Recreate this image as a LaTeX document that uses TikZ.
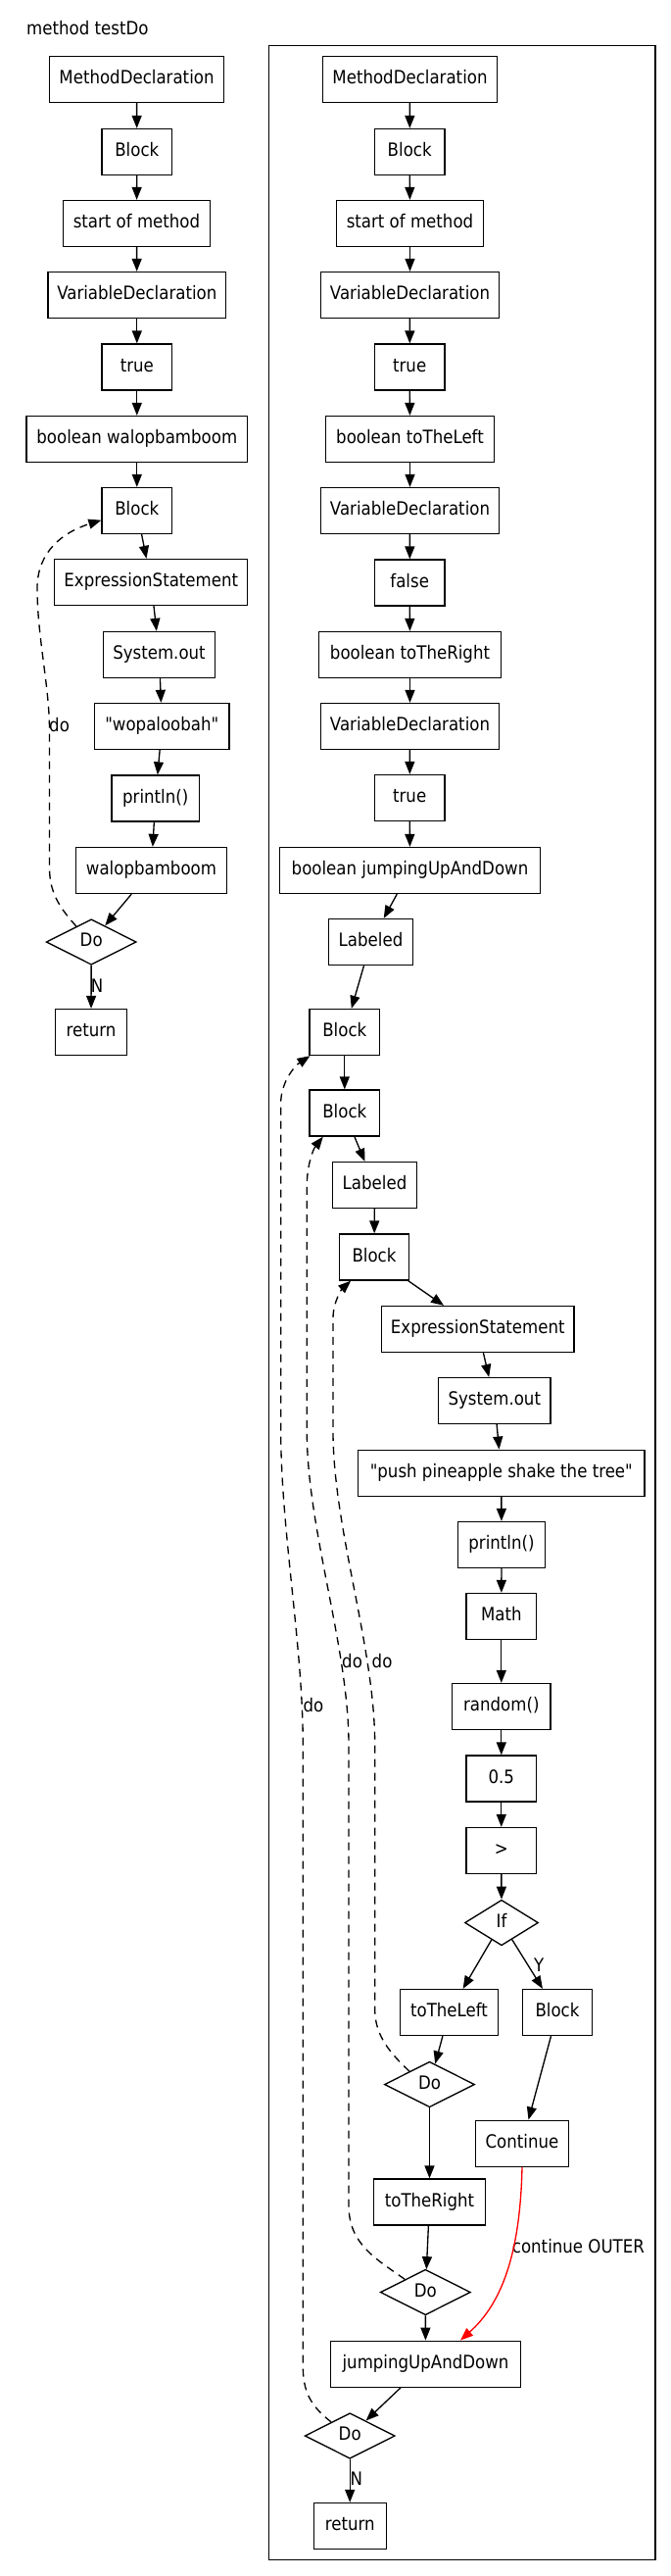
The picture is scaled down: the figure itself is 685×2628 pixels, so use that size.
\documentclass[tikz,border=0pt]{standalone}
\usepackage{fontspec}
\setmainfont{DejaVu Sans}[FakeStretch=0.89, Ligatures=TeXOff]
\usetikzlibrary{arrows.meta,shapes.geometric,calc}
\begin{document}
\begin{tikzpicture}[x=1pt,y=-1pt,
  every node/.style={font=\fontsize{18.67pt}{22pt}\selectfont, text height=13.7pt, text depth=3.9pt},
  box/.style={draw=black, line width=1.33pt, rectangle, minimum height=47pt, inner sep=0pt},
  dia/.style={draw=black, line width=1.33pt, diamond, minimum width=92pt, minimum height=46.5pt, inner sep=0pt},
  lbl/.style={inner sep=0pt, anchor=west},
  flow/.style={line width=1.33pt, -{Triangle[length=13pt,width=10pt]}},
  loopedge/.style={flow, dash pattern=on 8pt off 6pt},
  contedge/.style={line width=1.33pt, draw=red, -{Triangle[length=13pt,width=10pt]}}
]
\useasboundingbox (0,0) rectangle (685,2628);
\fill[white] (0,0) rectangle (685,2628);

\node[lbl] (title) at (27,30.5) {method testDo};
\draw[line width=1.33pt] (274.3,46.4) rectangle (669,2611.7);

% left column
\node[box, minimum width=178pt] (L1) at (139.5,81) {MethodDeclaration};
\node[box, minimum width=71.5pt] (L2) at (139.8,155) {Block};
\node[box, minimum width=150pt] (L3) at (139.5,228) {start of method};
\node[box, minimum width=181.5pt] (L4) at (139.8,301) {VariableDeclaration};
\node[box, minimum width=71.5pt] (L5) at (139.8,374.5) {true};
\node[box, minimum width=225.4pt] (L6) at (139.8,448) {boolean walopbamboom};
\node[box, minimum width=71.5pt] (L7) at (139.8,521) {Block};
\node[box, minimum width=197pt] (L8) at (154.3,594) {ExpressionStatement};
\node[box, minimum width=114pt] (L9) at (162.5,668) {System.out};
\node[box, minimum width=137.7pt] (L10) at (165.3,741) {"wopaloobah"};
\node[box, minimum width=89.7pt] (L11) at (158.7,814.5) {println()};
\node[box, minimum width=154pt] (L12) at (154.5,888) {walopbamboom};
\node[dia] (L13) at (93.2,961) {Do};
\node[box, minimum width=73.6pt] (L14) at (93,1053) {return};

% right column
\node[box, minimum width=178pt] (R1) at (418.5,81) {MethodDeclaration};
\node[box, minimum width=71.5pt] (R2) at (418.2,155) {Block};
\node[box, minimum width=150pt] (R3) at (418.5,228) {start of method};
\node[box, minimum width=181.5pt] (R4) at (418.5,301) {VariableDeclaration};
\node[box, minimum width=71.5pt] (R5) at (418.2,374.5) {true};
\node[box, minimum width=172pt] (R6) at (418.5,448) {boolean toTheLeft};
\node[box, minimum width=181.5pt] (R7) at (418.5,521) {VariableDeclaration};
\node[box, minimum width=71.5pt] (R8) at (418.2,594.5) {false};
\node[box, minimum width=186pt] (R9) at (418.5,668) {boolean toTheRight};
\node[box, minimum width=181.5pt] (R10) at (418.5,741) {VariableDeclaration};
\node[box, minimum width=71.5pt] (R11) at (418.2,814) {true};
\node[box, minimum width=266pt] (R12) at (418.5,888) {boolean jumpingUpAndDown};
\node[box, minimum width=86pt] (R13) at (378.5,961) {Labeled};
\node[box, minimum width=71.3pt] (R14) at (351.8,1053) {Block};
\node[box, minimum width=71.3pt] (R15) at (351.8,1135.5) {Block};
\node[box, minimum width=86pt] (R16) at (382.5,1209) {Labeled};
\node[box, minimum width=71pt] (R17) at (382,1282.5) {Block};
\node[box, minimum width=196.7pt] (R18) at (487.8,1356) {ExpressionStatement};
\node[box, minimum width=114.7pt] (R19) at (504.8,1429) {System.out};
\node[box, minimum width=292.7pt] (R20) at (511.8,1502.7) {"push pineapple shake the tree"};
\node[box, minimum width=89.6pt] (R21) at (512,1576) {println()};
\node[box, minimum width=71.3pt] (R22) at (511.8,1649) {Math};
\node[box, minimum width=100.7pt] (R23) at (511.8,1741) {random()};
\node[box, minimum width=71.3pt] (R24) at (511.8,1814.5) {0.5};
\node[box, minimum width=71.3pt] (R25) at (511.8,1888) {>};
\node[dia, minimum width=75pt] (R26) at (512,1961.5) {If};
\node[box, minimum width=100.6pt] (R27) at (458.5,2053) {toTheLeft};
\node[box, minimum width=71pt] (R28) at (569,2053) {Block};
\node[dia] (R29) at (438.5,2126.5) {Do};
\node[box, minimum width=95pt] (R30) at (533,2186.7) {Continue};
\node[box, minimum width=114pt] (R31) at (438.5,2246.5) {toTheRight};
\node[dia] (R32) at (434.3,2338.5) {Do};
\node[box, minimum width=194pt] (R33) at (434.5,2411.7) {jumpingUpAndDown};
\node[dia] (R34) at (357.2,2485) {Do};
\node[box, minimum width=74pt] (R35) at (357.2,2577) {return};

% labels
\node[lbl] (nL) at (92.7,1007.9) {N};
\node[lbl] (doL) at (50,741.9) {do};
\node[lbl] (doR1) at (379.5,1696.2) {do};
\node[lbl] (doR2) at (349,1696.2) {do};
\node[lbl] (doR3) at (309.3,1741.9) {do};
\node[lbl] (yR) at (545,2006.9) {Y};
\node[lbl] (cont) at (522.7,2293.6) {continue OUTER};
\node[lbl] (nR) at (357.3,2530.4) {N};

% left edges
\draw[flow] (L1) -- (L2);
\draw[flow] (L2) -- (L3);
\draw[flow] (L3) -- (L4);
\draw[flow] (L4) -- (L5);
\draw[flow] (L5) -- (L6);
\draw[flow] (L6) -- (L7);
\draw[flow] (L7) -- (L8);
\draw[flow] (L8) -- (L9);
\draw[flow] (L9) -- (L10);
\draw[flow] (L10) -- (L11);
\draw[flow] (L11) -- (L12);
\draw[flow] (L12) -- (L13);
\draw[flow] (L13) -- (L14);
\draw[loopedge] ($(L13.north)!0.33!(L13.west)$) .. controls (60,925) and (50.5,910) .. (50.5,885)
  -- (50.5,745) .. controls (50.5,700) and (38,650) .. (38,600)
  .. controls (38,563) and (64,543) .. ($(L7.west)+(0,9.7)$);

% right edges
\draw[flow] (R1) -- (R2);
\draw[flow] (R2) -- (R3);
\draw[flow] (R3) -- (R4);
\draw[flow] (R4) -- (R5);
\draw[flow] (R5) -- (R6);
\draw[flow] (R6) -- (R7);
\draw[flow] (R7) -- (R8);
\draw[flow] (R8) -- (R9);
\draw[flow] (R9) -- (R10);
\draw[flow] (R10) -- (R11);
\draw[flow] (R11) -- (R12);
\draw[flow] (R12) -- (R13);
\draw[flow] (R13) -- (R14);
\draw[flow] (R14) -- (R15);
\draw[flow] (R15) -- (R16);
\draw[flow] (R16) -- (R17);
\draw[flow] (R17) -- (R18);
\draw[flow] (R18) -- (R19);
\draw[flow] (R19) -- (R20);
\draw[flow] (R20) -- (R21);
\draw[flow] (R21) -- (R22);
\draw[flow] (R22) -- (R23);
\draw[flow] (R23) -- (R24);
\draw[flow] (R24) -- (R25);
\draw[flow] (R25) -- (R26);
\draw[flow] (R26) -- (R27);
\draw[flow] (R26) -- (R28);
\draw[flow] (R27) -- (R29);
\draw[flow] (R28) -- (R30);
\draw[flow] (R29) -- (R31);
\draw[flow] (R31) -- (R32);
\draw[flow] (R32) -- (R33);
\draw[flow] (R33) -- (R34);
\draw[flow] (R34) -- (R35);
\draw[contedge] (R30.south) .. controls (531,2300) and (512,2350) .. ($(R33.north)+(35.5,0)$);

\draw[loopedge] ($(R29.north)!0.44!(R29.west)$) .. controls (400,2096) and (382.7,2078) .. (382.7,2050)
  -- (382.7,1780) .. controls (382.7,1680) and (340,1560) .. (340,1460)
  -- (340,1345) .. controls (340,1328) and (349,1315) .. ($(R17.south west)+(12.3,0)$);
\draw[loopedge] ($(R32.north)!0.45!(R32.west)$) .. controls (385,2305) and (356,2290) .. (356,2250)
  -- (356,1780) .. controls (356,1680) and (313.3,1560) .. (313.3,1460)
  -- (313.3,1210) .. controls (313.3,1188) and (320,1172) .. ($(R15.south west)+(14.3,0)$);
\draw[loopedge] ($(R34.north)!0.41!(R34.west)$) .. controls (322,2458) and (309.3,2445) .. (309.3,2415)
  -- (309.3,1780) .. controls (309.3,1680) and (286.7,1560) .. (286.7,1460)
  -- (286.7,1125) .. controls (286.7,1105) and (300,1088) .. ($(R14.south west)+(1,0)$);
\end{tikzpicture}
\end{document}
